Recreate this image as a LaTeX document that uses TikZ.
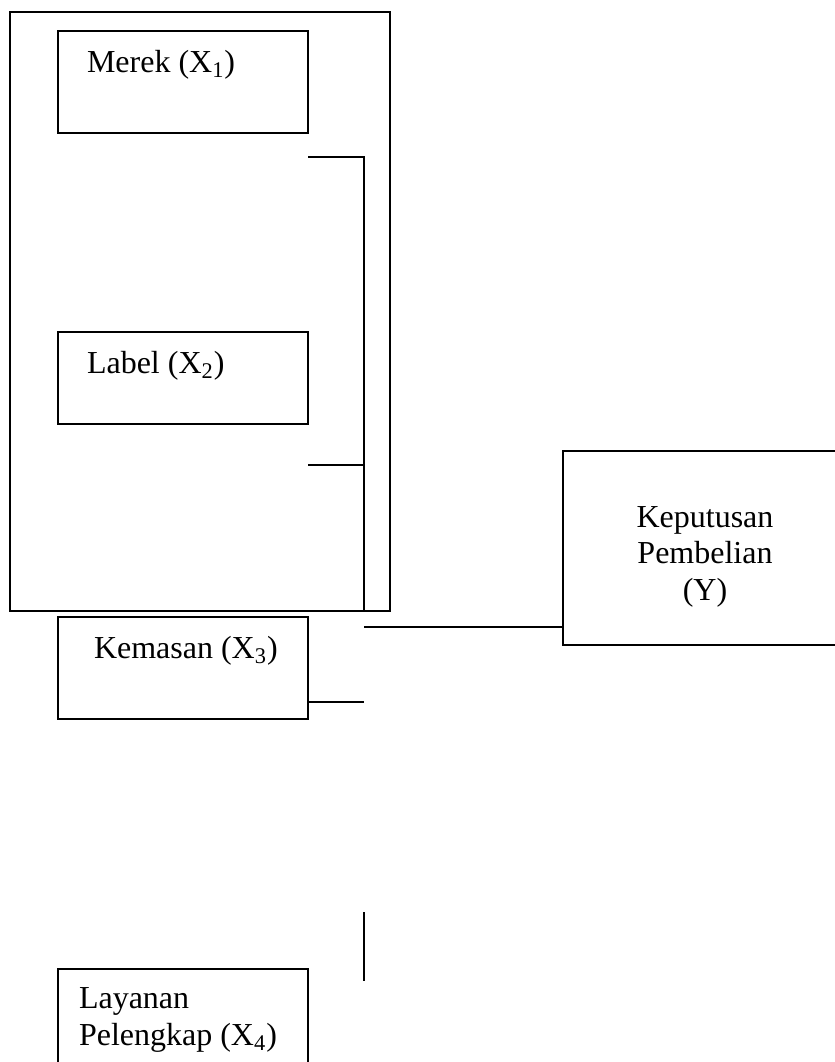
\documentclass[tikz,border=0pt]{standalone}
\usepackage{fontspec}
\setmainfont{Liberation Serif}
\begin{document}
\begin{tikzpicture}[x=0.5pt,y=-0.5pt,line width=1pt,
  box/.style={draw,rectangle,inner sep=0pt},
  txt/.style={inner sep=0pt,font=\fontsize{16}{18.5}\selectfont,anchor=base west,align=left},
  ctxt/.style={inner sep=0pt,font=\fontsize{16}{18.25}\selectfont,anchor=base,align=center}]
\useasboundingbox (0,0) rectangle (835,1062);
\clip (0,0) rectangle (835,1062);
% boxes
\node[box,minimum width=190pt,minimum height=299.5pt] (group) at (200,311.5) {};
\node[box,minimum width=125pt,minimum height=51pt] (merek) at (183,82) {};
\node[box,minimum width=125pt,minimum height=46pt] (label) at (183,378) {};
\node[box,minimum width=125pt,minimum height=51pt] (kemasan) at (183,668) {};
\node[box,minimum width=125pt,minimum height=65.5pt] (layanan) at (183,1034.5) {};
\node[box,minimum width=168.5pt,minimum height=97pt] (kep) at (731.5,548) {};
% texts
\node[txt] (tmerek) at (86,72) {Merek (X\textsubscript{1})};
\node[txt] (tlabel) at (86,373) {Label (X\textsubscript{2})};
\node[txt] (tkemasan) at (93,658) {Kemasan (X\textsubscript{3})};
\node[txt] (tlayanan) at (78,1045) {Layanan\\Pelengkap (X\textsubscript{4})};
\node[ctxt] (tkep) at (705,600) {Keputusan\\Pembelian\\(Y)};
% connectors
\coordinate (b1) at (308,157);
\coordinate (b2) at (364,157);
\coordinate (b3) at (308,465);
\coordinate (b4) at (364,465);
\coordinate (c1) at (364,627);
\coordinate (k2) at (364,702);
\coordinate (v1) at (364,912);
\coordinate (v2) at (364,981);
\draw (b1) -- (b2) -- (b2 |- group.south);
\draw (b3) -- (b4);
\draw (c1) -- (kep.west |- c1);
\draw (kemasan.east |- k2) -- (k2);
\draw (v1) -- (v2);
\end{tikzpicture}
\end{document}
